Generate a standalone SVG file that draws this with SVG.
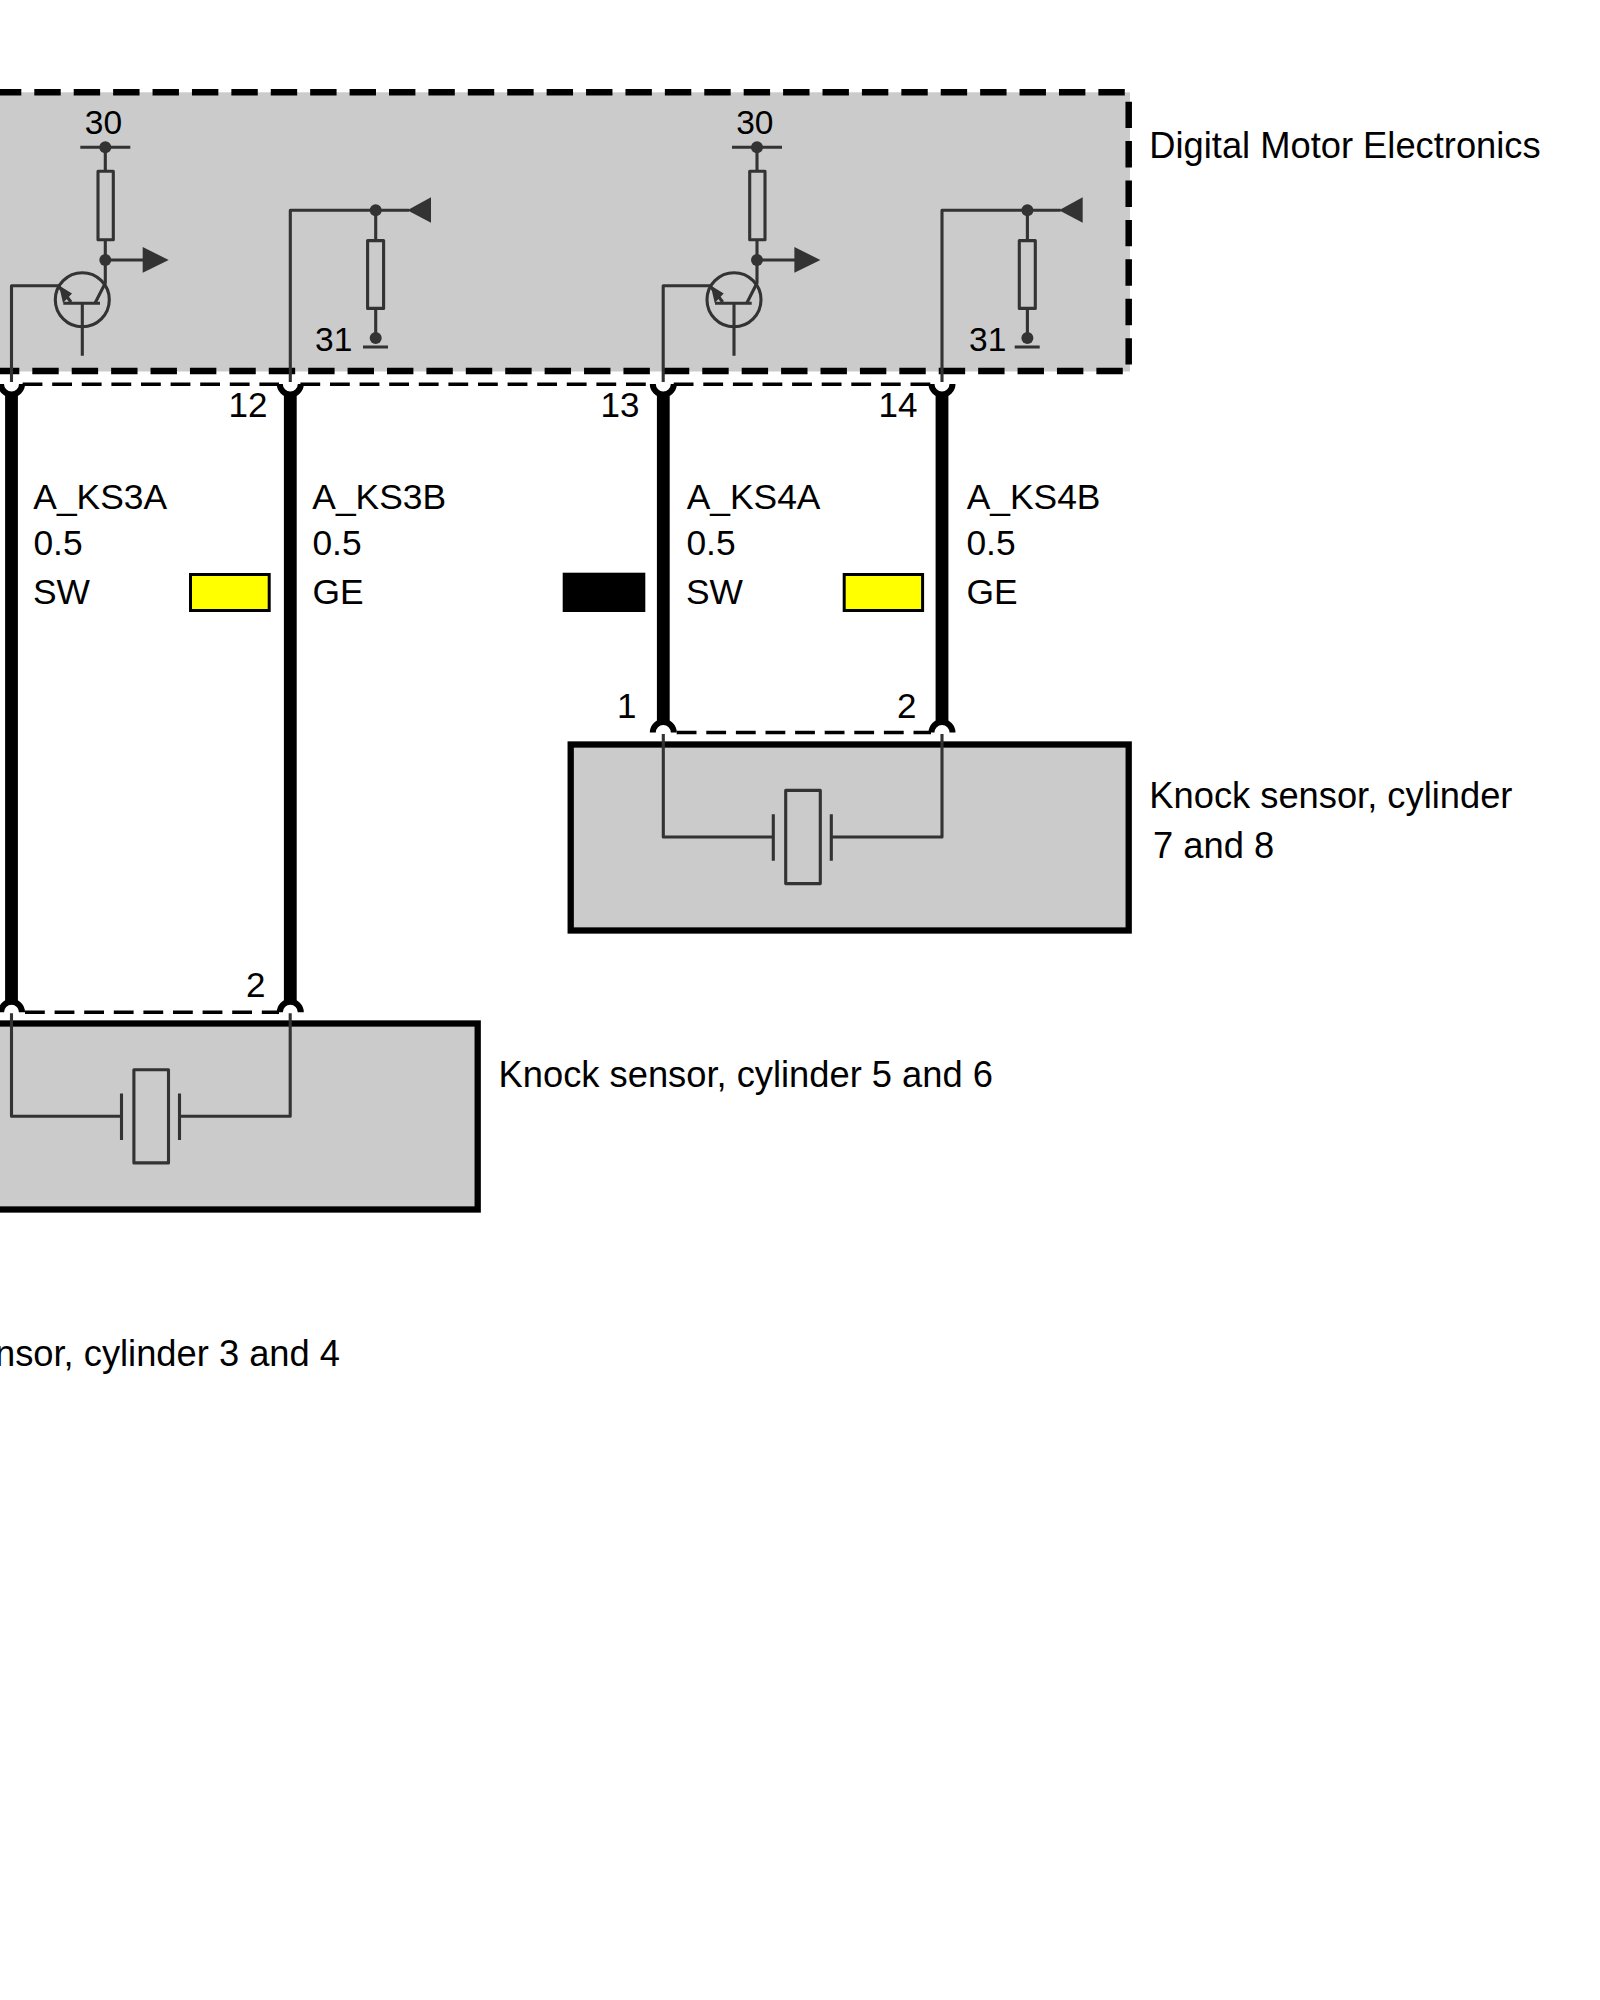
<svg xmlns="http://www.w3.org/2000/svg" xmlns:xlink="http://www.w3.org/1999/xlink" width="1600" height="2000" viewBox="0 0 1600 2000">
<style>
text{font-family:"Liberation Sans",Arial,sans-serif;fill:#000}
.lbl{font-size:36.3px}
.wl{font-size:35.4px}
.pin{font-size:35px}
.sup{font-size:33.5px}
.block{fill:#cbcbcb;stroke:none}
.box{fill:#cbcbcb;stroke:#000;stroke-width:6.3}
.dash{fill:none;stroke:#000;stroke-width:6.5;stroke-dasharray:26.4 13.01}
.thin{fill:none;stroke:#333;stroke-width:3.1;stroke-linejoin:round}
.wire{fill:none;stroke:#000;stroke-width:12.8}
.cdash{fill:none;stroke:#000;stroke-width:3.6;stroke-dasharray:19.8 9.8}
.sock{fill:none;stroke:#000;stroke-width:6}
.dark{fill:#333;stroke:none}
</style>
<defs>
<g id="amp">
<path class="thin" d="M80.3 147.3H130.3M105.3 147.3V171.3M105.3 240V283L95 303.3M105.3 260H145M11.5 382V285.7H60"/>
<circle class="dark" cx="105.3" cy="147.3" r="6"/>
<rect class="thin" x="98" y="171.3" width="15.3" height="68.5"/>
<circle class="dark" cx="105.3" cy="260" r="6"/>
<polygon class="dark" points="142.7,247 168.7,260 142.7,272.7"/>
<circle class="thin" cx="82.3" cy="299.8" r="27"/>
<path class="thin" d="M63.3 303.3H100M82.3 303.3V355.7M58.5 286L71 302"/>
<polygon class="dark" points="59,285.5 72,293.5 63,303"/>
</g>
<g id="pull">
<path class="thin" d="M290.3 382V210.3H409M375.7 210.3V240.6M375.7 308.4V338M363 347H388"/>
<circle class="dark" cx="375.7" cy="210.3" r="6"/>
<rect class="thin" x="367.6" y="240.6" width="16" height="67.8"/>
<circle class="dark" cx="375.7" cy="338" r="6"/>
<polygon class="dark" points="407.3,210.3 431,197.3 431,222.7"/>
</g>
<g id="piezo">
<path class="thin" d="M663.3 734V837H773.3M942 734V837H831.3M773.3 814.3V860.7M831.3 814.3V860.7"/>
<rect class="thin" x="785.7" y="790.4" width="34.6" height="93.2"/>
</g>
<path id="up" class="sock" d="M-10.5 0A10.5 10.5 0 0 0 10.5 0"/>
<path id="down" class="sock" d="M-10.5 0A10.5 10.5 0 0 1 10.5 0"/>
</defs>

<g id="dme">
<rect class="block" x="-10" y="92.3" width="1140" height="279.2"/>
<path class="dash" d="M-5.1 92.3H1125.5"/>
<path class="dash" d="M-7.1 371H1123"/>
<path class="dash" d="M1128.7 101.7V365"/>
<use xlink:href="#amp" href="#amp"/>
<use xlink:href="#pull" href="#pull"/>
<use xlink:href="#amp" href="#amp" transform="translate(651.7 0)"/>
<use xlink:href="#pull" href="#pull" transform="translate(651.7 0)"/>
<text class="sup" x="84.8" y="134.3">30</text>
<text class="sup" x="736.2" y="134.3">30</text>
<text class="sup" x="315" y="350.7">31</text>
<text class="sup" x="969" y="350.7">31</text>
<text class="lbl" x="1149.3" y="158.3">Digital Motor Electronics</text>
</g>

<g id="sensor78">
<rect class="box" x="570.7" y="744.5" width="558" height="186"/>
<use xlink:href="#piezo" href="#piezo"/>
<text class="lbl" x="1149.3" y="808">Knock sensor, cylinder</text>
<text class="lbl" x="1153" y="858.3">7 and 8</text>
</g>

<g id="sensor56">
<rect class="box" x="-10" y="1023.5" width="487.7" height="186"/>
<use xlink:href="#piezo" href="#piezo" transform="translate(-651.8 279.3)"/>
<text class="lbl" x="498.6" y="1086.7">Knock sensor, cylinder 5 and 6</text>
</g>

<g id="sensor34">
<text class="lbl" x="340" y="1366" text-anchor="end">nsor, cylinder 3 and 4</text>
</g>

<g id="connectors">
<path class="wire" d="M11.5 392V1002M290.3 392V1002M663.3 392V722M942 392V722"/>
<path class="cdash" d="M22.6 384.3H279"/>
<path class="cdash" d="M300.4 384.3H653"/>
<path class="cdash" d="M673.7 384.3H931"/>
<path class="cdash" d="M676.7 732.5H931"/>
<path class="cdash" d="M25 1012.3H279"/>
<use xlink:href="#up" href="#up" x="11.5" y="384"/>
<use xlink:href="#up" href="#up" x="290.3" y="384"/>
<use xlink:href="#up" href="#up" x="663.3" y="384"/>
<use xlink:href="#up" href="#up" x="942" y="384"/>
<use xlink:href="#down" href="#down" x="663.3" y="732.5"/>
<use xlink:href="#down" href="#down" x="942" y="732.5"/>
<use xlink:href="#down" href="#down" x="11.5" y="1012.3"/>
<use xlink:href="#down" href="#down" x="290.3" y="1012.3"/>
</g>

<g id="wire-labels">
<text class="pin" x="228.5" y="416.7">12</text>
<text class="pin" x="600.5" y="416.7">13</text>
<text class="pin" x="878.5" y="416.7">14</text>
<text class="pin" x="617" y="718">1</text>
<text class="pin" x="897" y="718">2</text>
<text class="pin" x="246" y="997.3">2</text>
<text class="wl" x="33.3" y="509">A_KS3A</text>
<text class="wl" x="33.4" y="555">0.5</text>
<text class="wl" x="33" y="603.5">SW</text>
<text class="wl" x="312.3" y="509">A_KS3B</text>
<text class="wl" x="312.4" y="555">0.5</text>
<text class="wl" x="312.4" y="603.5">GE</text>
<text class="wl" x="686.7" y="509">A_KS4A</text>
<text class="wl" x="686.4" y="555">0.5</text>
<text class="wl" x="686" y="603.5">SW</text>
<text class="wl" x="966.7" y="509">A_KS4B</text>
<text class="wl" x="966.4" y="555">0.5</text>
<text class="wl" x="966.4" y="603.5">GE</text>
</g>

<g id="colour-keys">
<rect x="190.5" y="574.5" width="78.7" height="36" fill="#ffff00" stroke="#000" stroke-width="3"/>
<rect x="562.7" y="572.7" width="82.6" height="39.3" fill="#000"/>
<rect x="844.2" y="574.5" width="78.4" height="36" fill="#ffff00" stroke="#000" stroke-width="3"/>
</g>
</svg>
